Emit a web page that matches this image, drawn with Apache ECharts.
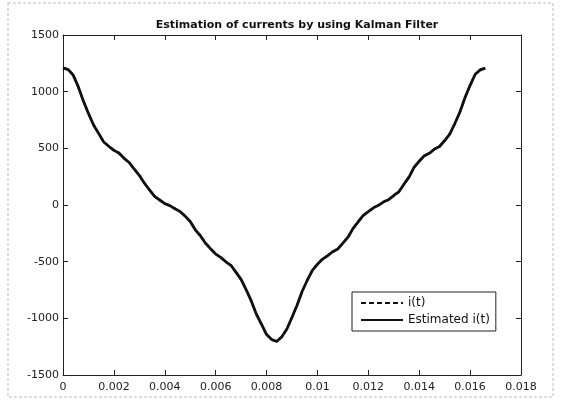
<!DOCTYPE html>
<html>
<head>
<meta charset="utf-8">
<title>Estimation of currents by using Kalman Filter</title>
<script src="https://cdn.jsdelivr.net/npm/echarts@6/dist/echarts.min.js"></script>
<style>
  html, body { margin: 0; padding: 0; background: #fff; }
  #chart { width: 565px; height: 401px; }
</style>
</head>
<body>
<div id="chart"></div>
<script>
// time axis (ms), sampled every 0.2 ms
const timeMs = [
  0.0, 0.2, 0.4, 0.6, 0.8, 1.0, 1.2, 1.4, 1.6, 1.8,
  2.0, 2.2, 2.4, 2.6, 2.8, 3.0, 3.2, 3.4, 3.6, 3.8,
  4.0, 4.2, 4.4, 4.6, 4.8, 5.0, 5.2, 5.4, 5.6, 5.8,
  6.0, 6.2, 6.4, 6.6, 6.8, 7.0, 7.2, 7.4, 7.6, 7.8,
  8.0, 8.2, 8.4, 8.6, 8.8, 9.0, 9.2, 9.4, 9.6, 9.8,
  10.0, 10.2, 10.4, 10.6, 10.8, 11.0, 11.2, 11.4, 11.6, 11.8,
  12.0, 12.2, 12.4, 12.6, 12.8, 13.0, 13.2, 13.4, 13.6, 13.8,
  14.0, 14.2, 14.4, 14.6, 14.8, 15.0, 15.2, 15.4, 15.6, 15.8,
  16.0, 16.2, 16.4, 16.6
]

// measured current i(t)
const currentI = [
  1212, 1198, 1150, 1040, 922, 805, 710, 628, 560, 515,
  485, 455, 415, 372, 320, 258, 196, 130, 80, 40,
  15, -8, -30, -60, -95, -150, -215, -275, -335, -390,
  -430, -465, -498, -535, -590, -660, -745, -850, -960, -1055,
  -1140, -1190, -1202, -1165, -1090, -995, -880, -765, -660, -580,
  -520, -480, -445, -415, -385, -340, -280, -210, -145, -95,
  -55, -28, 0, 25, 50, 80, 120, 180, 250, 330,
  390, 430, 460, 490, 520, 565, 630, 715, 825, 945,
  1060, 1150, 1195, 1210
]

// Kalman filter estimate
const estimatedI = [
  1210, 1195, 1146, 1044, 918, 808, 706, 632, 556, 518,
  482, 458, 412, 375, 316, 262, 192, 134, 76, 44,
  12, -5, -33, -57, -98, -146, -219, -271, -338, -386,
  -433, -462, -501, -532, -594, -656, -749, -846, -964, -1051,
  -1143, -1187, -1205, -1162, -1094, -991, -884, -761, -664, -576,
  -523, -477, -448, -412, -388, -336, -284, -206, -149, -91,
  -58, -25, -3, 28, 47, 84, 116, 184, 246, 334,
  386, 434, 456, 494, 516, 569, 626, 719, 821, 949,
  1056, 1154, 1192, 1208
]

const xTicks = { min: 0, max: 0.018, interval: 0.002 }
const yTicks = { min: -1500, max: 1500, interval: 500 }

const toPairs = (vals) => vals.map((v, i) => [timeMs[i] / 1000, v])

const chart = echarts.init(document.getElementById('chart'))

const font = '"DejaVu Sans", Verdana, sans-serif'
const axisCommon = {
  type: 'value',
  axisLine: { show: true, onZero: false, lineStyle: { color: '#222', width: 1 } },
  axisTick: { show: true, inside: true, length: 5, lineStyle: { color: '#222' } },
  splitLine: { show: false }
}

chart.setOption({
  animation: false,
  backgroundColor: '#fff',
  title: {
    text: 'Estimation of currents by using Kalman Filter',
    left: 292,
    top: 15,
    textAlign: 'center',
    textStyle: { fontFamily: font, fontSize: 11, fontWeight: 'bold', color: '#111' }
  },
  grid: { left: 63, right: 44, top: 35, bottom: 26 },
  xAxis: [
    {
      ...axisCommon,
      position: 'bottom',
      ...xTicks,
      axisLabel: { fontFamily: font, fontSize: 11, color: '#222', margin: 7 }
    },
    {
      ...axisCommon,
      position: 'top',
      ...xTicks,
      axisLabel: { show: false }
    }
  ],
  yAxis: [
    {
      ...axisCommon,
      position: 'left',
      ...yTicks,
      axisLabel: {
        fontFamily: font, fontSize: 11, color: '#222', margin: 4,
        formatter: (v) => String(v)
      }
    },
    {
      ...axisCommon,
      position: 'right',
      ...yTicks,
      axisLabel: { show: false }
    }
  ],
  legend: {
    orient: 'vertical',
    left: 352,
    top: 292,
    padding: [5, 6, 5, 8],
    itemGap: 5,
    itemWidth: 42,
    itemHeight: 10,
    borderColor: '#222',
    borderWidth: 1,
    backgroundColor: '#fff',
    itemStyle: { opacity: 0 },
    textStyle: { fontFamily: font, fontSize: 12, color: '#111', padding: [0, 0, 0, 0] },
    data: ['i(t)', 'Estimated i(t)']
  },
  series: [
    {
      name: 'i(t)',
      type: 'line',
      symbol: 'none',
      data: toPairs(currentI),
      lineStyle: { color: '#111', width: 2, type: [5, 3] },
      itemStyle: { color: '#111' },
      z: 3
    },
    {
      name: 'Estimated i(t)',
      type: 'line',
      symbol: 'none',
      data: toPairs(estimatedI),
      lineStyle: { color: '#111', width: 2.8 },
      itemStyle: { color: '#111' },
      z: 2
    }
  ],
  graphic: [
    {
      type: 'rect',
      shape: { x: 8, y: 3, width: 545, height: 394 },
      style: { fill: 'none', stroke: '#bbb', lineWidth: 1, lineDash: [3, 2] },
      silent: true,
      z: -1
    }
  ]
})
</script>
</body>
</html>
